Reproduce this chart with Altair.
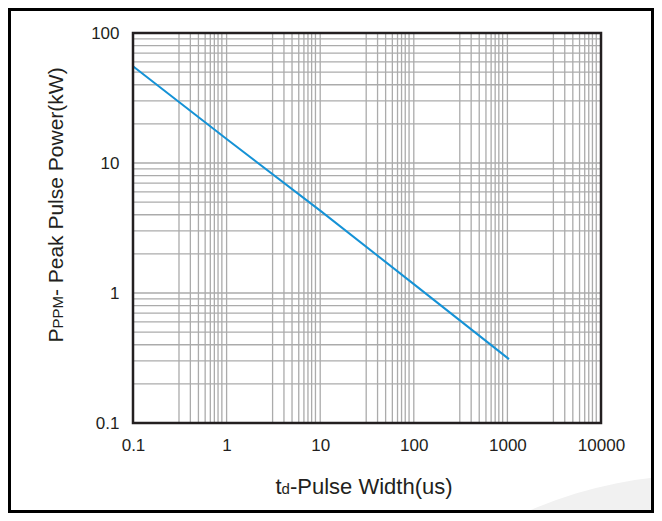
import altair as alt
import pandas as pd

# ---- data ----
pulse_width_us = [0.1, 1, 10, 100, 1040]
peak_power_kw = [55.5, 15.3, 4.3, 1.17, 0.31]

x_tick_values = [0.1, 1, 10, 100, 1000, 10000]
y_tick_values = [0.1, 1, 10, 100]

x_decades = [0.1, 1, 10, 100, 1000]
x_grid_mult = [3.1, 4.1, 5.0, 5.9, 6.7, 7.4, 8.1, 8.9, 10]
y_decades = [0.1, 1, 10]
y_grid_mult = [2, 3, 4, 5, 6, 7, 8, 9, 10]

x_grid = [d * m for d in x_decades for m in x_grid_mult]
y_grid = [d * m for d in y_decades for m in y_grid_mult]

x_title_parts = [("t", 22), ("d", 15), ("-Pulse Width(us)", 22)]
y_title_parts = [("P", 21), ("PPM", 15), ("- Peak Pulse Power(kW)", 21)]

# ---- layout ----
W, H = 468, 390
PAD_L, PAD_T, PAD_R, PAD_B = 125, 25, 53, 90
FONT = "Liberation Sans"
INK = "#231f20"
GRID = "#ababab"
LINE = "#1592d6"

ARIAL = {"t": .278, "d": .556, "-": .333, "P": .667, "u": .556, "l": .222,
         "s": .5, "e": .556, " ": .278, "W": .944, "i": .222, "h": .556,
         "(": .333, ")": .333, "M": .833, "a": .556, "k": .5, "o": .556,
         "w": .722, "r": .333}


def text_width(s, size):
    return sum(ARIAL.get(c, .556) for c in s) * size


x_scale = alt.Scale(type="log", domain=[0.1, 10000])
y_scale = alt.Scale(type="log", domain=[0.1, 100])
one = pd.DataFrame({"k": [0]})

x_axis = alt.Axis(values=x_tick_values, format="~g", title=None,
                  grid=False, ticks=False, domain=False,
                  labelFontSize=17, labelFont=FONT, labelColor=INK,
                  labelPadding=14, labelFlush=False)
y_axis = alt.Axis(values=y_tick_values, format="~g", title=None,
                  grid=False, ticks=False, domain=False,
                  labelFontSize=17, labelFont=FONT, labelColor=INK,
                  labelPadding=14, labelFlush=False)

# faint decorative circle in the bottom-right corner
watermark = alt.Chart(one).mark_arc(
    radius=425, theta=0, theta2=6.2832, fill="#f1f1f1"
).encode(x=alt.value(567), y=alt.value(867))

vgrid = alt.Chart(pd.DataFrame({"g": x_grid})).mark_rule(
    color=GRID, strokeWidth=1.3
).encode(x=alt.X("g:Q", scale=x_scale, axis=x_axis))

hgrid = alt.Chart(pd.DataFrame({"g": y_grid})).mark_rule(
    color=GRID, strokeWidth=1.3
).encode(y=alt.Y("g:Q", scale=y_scale, axis=y_axis))

df = pd.DataFrame({"t": pulse_width_us, "p": peak_power_kw})
line = alt.Chart(df).mark_line(color=LINE, strokeWidth=2).encode(
    x=alt.X("t:Q", scale=x_scale, axis=x_axis),
    y=alt.Y("p:Q", scale=y_scale, axis=y_axis),
)

frame = alt.Chart(one).mark_rect(
    fillOpacity=0, stroke=INK, strokeWidth=2.5
).encode(x=alt.value(0), x2=alt.value(W), y=alt.value(0), y2=alt.value(H))

outer = alt.Chart(one).mark_rect(
    fillOpacity=0, stroke="#000000", strokeWidth=3
).encode(x=alt.value(-PAD_L + 1.5), x2=alt.value(W + PAD_R - 1.5),
         y=alt.value(-PAD_T + 1.5), y2=alt.value(H + PAD_B - 1.5))

# x title with small "d"
layers = []
total = sum(text_width(s, f) for s, f in x_title_parts)
xpos = 231 - total / 2
for s, f in x_title_parts:
    layers.append(alt.Chart(one).mark_text(
        text=s, fontSize=f, font=FONT, color=INK, align="left",
        baseline="alphabetic").encode(x=alt.value(xpos), y=alt.value(461)))
    xpos += text_width(s, f)

# y title with small "PPM"
total = sum(text_width(s, f) for s, f in y_title_parts)
ypos = 172 + total / 2
for s, f in y_title_parts:
    layers.append(alt.Chart(one).mark_text(
        text=s, fontSize=f, font=FONT, color=INK, align="left",
        baseline="alphabetic", angle=270).encode(x=alt.value(-70), y=alt.value(ypos)))
    ypos -= text_width(s, f)

chart = alt.layer(watermark, vgrid, hgrid, line, frame, outer, *layers).properties(
    width=W, height=H,
    autosize=alt.AutoSizeParams(type="none"),
    padding={"left": PAD_L, "top": PAD_T, "right": PAD_R, "bottom": PAD_B},
    background="white",
).configure_view(stroke="transparent")

chart.save("out.html", embed_options={"renderer": "svg", "actions": False})
